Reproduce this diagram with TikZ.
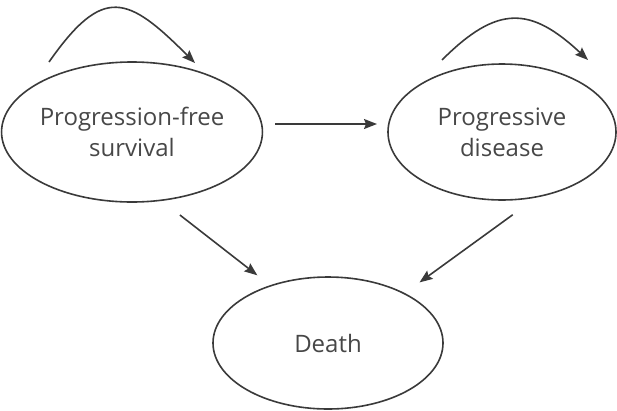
\documentclass[tikz,border=0pt]{standalone}
\usepackage{fontspec}
\setmainfont{Open Sans}
\usepackage{tikz}
\usetikzlibrary{shapes.geometric}
\usetikzlibrary{arrows.meta}

\definecolor{edgegrey}{HTML}{3A3A3A}
\definecolor{textgrey}{HTML}{474747}

\tikzset{
  state/.style={ellipse,draw=edgegrey,line width=1.6pt,inner sep=0pt,
    outer sep=0pt,align=center,text=textgrey,
    font=\fontsize{24}{31}\selectfont},
  trans/.style={draw=edgegrey,line width=1.6pt,
    -{Stealth[length=13pt,width=10pt,inset=2pt]}}
}

\begin{document}
\begin{tikzpicture}[x=1pt,y=-1pt]
  \useasboundingbox
    (0,0)
    rectangle
    (617,410);
  \node[state,minimum width=240pt,minimum height=140pt]
    (pfs) at (132,132) {Progression-free\\survival};
  \node[state,minimum width=228pt,minimum height=136pt]
    (pd) at (502,132) {Progressive\\disease};
  \node[state,minimum width=230pt,minimum height=132pt]
    (death) at (328,343) {Death};
  \coordinate (pfsout) at ([shift={(-83pt,70pt)}]pfs.center);
  \coordinate (pfsin) at ([shift={(63pt,69pt)}]pfs.center);
  \coordinate (pdout) at ([shift={(-60pt,72pt)}]pd.center);
  \coordinate (pdin) at ([shift={(86pt,72pt)}]pd.center);
  \draw[trans]
    (pfsout)
    to[out=55,in=135,looseness=1.66]
    (pfsin);
  \draw[trans]
    (pdout)
    to[out=45,in=137,looseness=1.38]
    (pdin);
  \draw[trans,shorten <=13pt,shorten >=11pt]
    ([yshift=8pt]pfs.east)
    --
    ([yshift=8pt]pd.west);
  \draw[trans,shorten <=24pt,shorten >=17pt]
    (pfs.-67)
    --
    (death.135);
  \draw[trans,shorten <=31pt,shorten >=19pt]
    (pd.-61)
    --
    (death.33);
\end{tikzpicture}
\end{document}
